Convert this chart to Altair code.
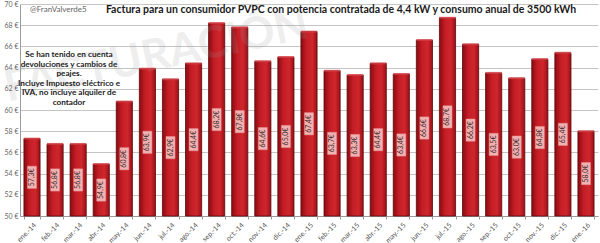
import altair as alt
import pandas as pd

meses = ["ene.-14", "feb.-14", "mar.-14", "abr.-14", "may.-14", "jun.-14", "jul.-14",
         "ago.-14", "sep.-14", "oct.-14", "nov.-14", "dic.-14", "ene.-15", "feb.-15",
         "mar.-15", "abr.-15", "may.-15", "jun.-15", "jul.-15", "ago.-15", "sep.-15",
         "oct.-15", "nov.-15", "dic.-15", "ene.-16"]
factura = [57.3, 56.8, 56.8, 54.9, 60.8, 63.9, 62.9, 64.4, 68.2, 67.8, 64.6, 65.0,
           67.4, 63.7, 63.3, 64.4, 63.4, 66.6, 68.7, 66.2, 63.5, 63.0, 64.8, 65.4, 58.0]

nota = ["Se han tenido en cuenta", "devoluciones y cambios de", "peajes.",
        "Incluye Impuesto eléctrico e", "IVA, no incluye alquiler de", "contador"]

titulo = "Factura para un consumidor  PVPC con potencia contratada de 4,4 kW y consumo anual de 3500 kWh"
autor = "@FranValverde5"

df = pd.DataFrame({"mes": meses, "importe": factura})
df["etiqueta"] = [f"{v:.1f}€".replace(".", ",") for v in factura]

FONT = "Lato"
W, H = 578, 212

eje_x = alt.Axis(labelAngle=-45, labelFontSize=7, labelColor="#555555",
                 labelFont=FONT, tickBand="extent", tickSize=3,
                 tickColor="#9a9a9a", domainColor="#9a9a9a", labelPadding=2)
eje_y = alt.Axis(values=list(range(50, 71, 2)), labelExpr="datum.value + ' €'",
                 labelOverlap=False, labelFontSize=7, labelColor="#666666",
                 labelFont=FONT, gridColor="#c4c4c4", gridWidth=1,
                 domainColor="#9a9a9a", ticks=False, labelPadding=2)
escala_x = alt.Scale(paddingInner=0.3, paddingOuter=0.17)
escala_y = alt.Scale(domain=[50, 70], nice=False, zero=False)


def ex():
    return alt.X("mes:N", sort=meses, title=None, scale=escala_x, axis=eje_x)


def ey(campo):
    return alt.Y(campo, title=None, scale=escala_y, axis=eje_y)


base = alt.Chart(df)

gradiente = alt.Gradient(
    gradient="linear", x1=0, x2=1, y1=0, y2=0,
    stops=[alt.GradientStop(offset=0, color="#8a0b10"),
           alt.GradientStop(offset=0.35, color="#c41d25"),
           alt.GradientStop(offset=0.7, color="#cf262d"),
           alt.GradientStop(offset=1, color="#9a1016")])

barras = base.mark_bar(fill=gradiente, stroke="#5e080b", strokeWidth=0.8).encode(
    x=ex(), y=ey("importe:Q"), y2=alt.datum(50))

marca = alt.Chart(pd.DataFrame({"t": ["FACTURACIÓN"]})).mark_text(
    fontSize=44, font=FONT, fontWeight="bold", color="#9a9a9a", opacity=0.16,
    angle=348, align="left").encode(x=alt.value(-15), y=alt.value(85), text="t:N")

# lighter cap on top of each bar
tapa = base.mark_tick(color="#e2464c", thickness=2, bandSize=14).encode(
    x=ex(), y=ey("importe:Q"))

# value boxes centred half-way up each bar
cajas = base.transform_calculate(
    y0="(datum.importe + 50) / 2 - 1.05",
    y1="(datum.importe + 50) / 2 + 1.05",
).mark_bar(width=9, fill="#f2b2b2", stroke="#e08e8e", strokeWidth=0.5).encode(
    x=ex(), y=ey("y0:Q"), y2="y1:Q")

textos = base.transform_calculate(
    ymid="(datum.importe + 50) / 2"
).mark_text(angle=270, fontSize=7, font=FONT, color="#3a2a2a").encode(
    x=ex(), y=ey("ymid:Q"), text="etiqueta:N")

cabecera = alt.Chart(pd.DataFrame({"t": [titulo]})).mark_text(
    fontSize=10.5, font=FONT, fontWeight="bold", color="#1a1a1a").encode(
    x=alt.value(321), y=alt.value(6), text="t:N")

firma = alt.Chart(pd.DataFrame({"t": [autor]})).mark_text(
    fontSize=8, font=FONT, color="#666666", align="left").encode(
    x=alt.value(10), y=alt.value(6), text="t:N")

anotacion = alt.Chart(pd.DataFrame({"t": ["\n".join(nota)]})).mark_text(
    fontSize=8.2, font=FONT, fontWeight="bold", color="#222222", lineBreak="\n",
    lineHeight=9.6, baseline="top").encode(
    x=alt.value(49), y=alt.value(47), text="t:N")

chart = alt.layer(barras, marca, tapa, cajas, textos, cabecera, firma, anotacion).properties(
    width=W, height=H,
    autosize=alt.AutoSizeParams(type="none"),
    padding={"left": 20, "top": 4, "right": 2, "bottom": 27},
    background="white",
).configure_view(stroke=None).configure_axisY(labelOverlap=False)

chart.save("out.html", embed_options={"renderer": "svg", "actions": False})
